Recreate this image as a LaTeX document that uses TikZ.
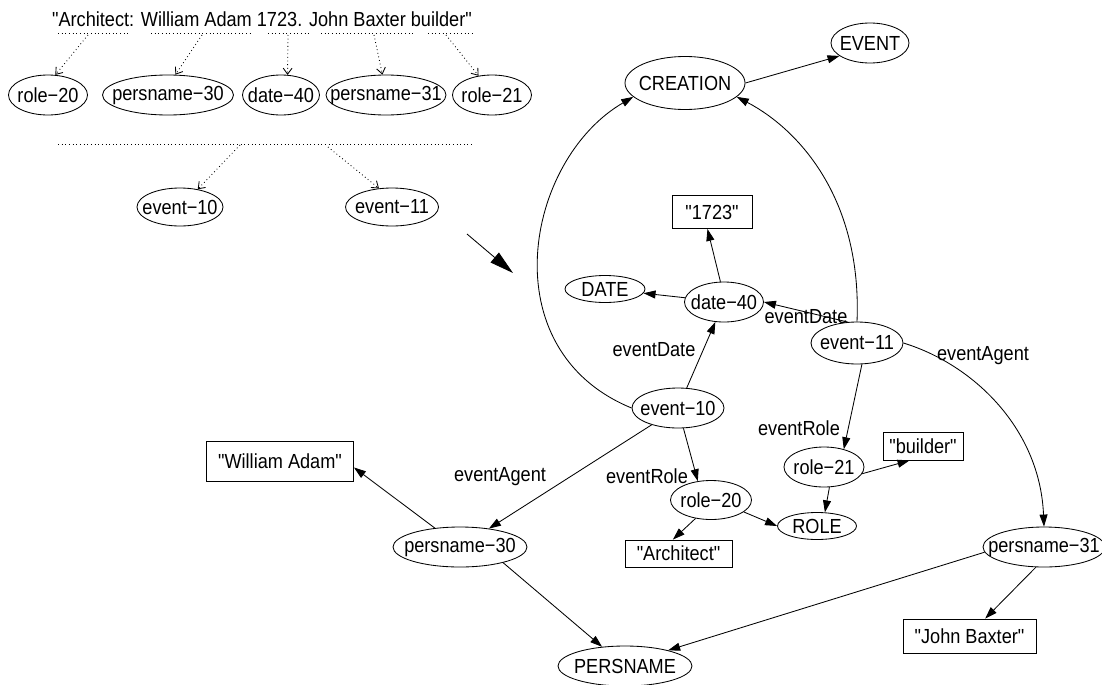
\documentclass[tikz,border=0pt]{standalone}
\usepackage{fontspec}
\setmainfont{Liberation Sans}[Ligatures=TeXOff, FakeStretch=0.89]
\usetikzlibrary{arrows.meta, shapes.geometric}
\tikzset{
    sz/.style 2 args={minimum width=#1*0.025cm, minimum height=#2*0.025cm},
    ent/.style={ellipse, draw, inner sep=0pt,
                execute at begin node={\hbox to 0pt\bgroup\hss}, execute at end node={\hss\egroup}},
    lit/.style={rectangle, draw, inner sep=0pt},
    lbl/.style={inner sep=0pt},
    arr/.style={-{Triangle[length=0.3cm, width=0.2cm]}},
    dotarr/.style={dotted, -{Straight Barb[length=0.15cm, width=0.22cm]}}
}

\begin{document}
\begin{tikzpicture}[x=0.025cm, y=-0.025cm, font=\fontsize{14.5pt}{16pt}\selectfont, line width=0.6pt]
        \useasboundingbox (0,0) rectangle (1102,684);

        \node[lbl] (sent) at (262,19) {"Architect: William Adam 1723. John Baxter builder"};
        \foreach \a/\b in {58/128, 151/253, 268/309, 321/414, 428/472}
            \draw[dotted] (\a,33) -- (\b,33);
        \node[ent, sz={79}{40}] (tr20) at (48,95) {role−20};
        \node[ent, sz={131}{40}] (tpn30) at (168,95) {persname−30};
        \node[ent, sz={77}{40}] (td40) at (281,95) {date−40};
        \node[ent, sz={120}{40}] (tpn31) at (386,95) {persname−31};
        \node[ent, sz={79}{40}] (tr21) at (492,95) {role−21};
        \foreach \x/\n/\a in {88/tr20/70, 202/tpn30/70, 288/td40/72, 374/tpn31/100, 446/tr21/125} {
            \coordinate (s-\n) at (\x,35);
            \draw[dotarr] (s-\n) -- (\n.\a);
        }
        \draw[dotted] (58,144) -- (472,144);
        \node[ent, sz={86}{38}] (te10) at (180,207) {event−10};
        \node[ent, sz={93}{38}] (te11) at (392,207) {event−11};
        \coordinate (m-te10) at (240,145);
        \coordinate (m-te11) at (328,147);
        \draw[dotarr] (m-te10) -- (te10.45);
        \draw[dotarr] (m-te11) -- (te11.125);

        \coordinate (bigA) at (467,234);
        \coordinate (bigB) at (513,273);
        \draw[-{Triangle[length=0.6cm, width=0.32cm]}] (bigA) -- (bigB);

        \node[ent, sz={120}{53}] (cre) at (685,83) {CREATION};
        \node[ent, sz={78}{40}] (ev) at (870,43) {EVENT};
        \node[lit, sz={80}{33}] (y1723) at (712,212) {"1723"};
        \node[ent, sz={80}{27}] (dt) at (605,289) {DATE};
        \node[ent, sz={79}{40}] (d40) at (724,302) {date−40};
        \node[ent, sz={92}{42}] (e11) at (857,343) {event−11};
        \node[ent, sz={92}{40}] (e10) at (678,408) {event−10};
        \node[ent, sz={80}{40}] (r21) at (824,467) {role−21};
        \node[lit, sz={80}{28}] (bld) at (923,446) {"builder"};
        \node[ent, sz={81}{39}] (r20) at (711,500) {role−20};
        \node[ent, sz={79}{27}] (rl) at (817,526) {ROLE};
        \node[lit, sz={107}{27}] (arch) at (678.5,553.5) {"Architect"};
        \node[ent, sz={134}{40}] (pn30) at (460,547) {persname−30};
        \node[lit, sz={147}{40}] (wadam) at (280,461) {"William Adam"};
        \node[ent, sz={122}{40}] (pn31) at (1044,547) {persname−31};
        \node[lit, sz={133}{34}] (jb) at (969.5,636) {"John Baxter"};
        \node[ent, sz={134}{40}] (pers) at (625,666) {PERSNAME};

        \node[lbl] (lDate10) at (654,350) {eventDate};
        \node[lbl] (lDate11) at (806,317) {eventDate};
        \node[lbl] (lAgent10) at (500,477) {eventAgent};
        \node[lbl] (lAgent11) at (983,356) {eventAgent};
        \node[lbl] (lRole10) at (647,476) {eventRole};
        \node[lbl] (lRole11) at (799,428) {eventRole};

        \draw[arr] (cre.east) -- (ev.203);
        \draw[arr] (e10.west) .. controls (490,350) and (525,160) .. (cre.195);
        \draw[arr] (e11.north) .. controls (862,200) and (800,130) .. (cre.-15);
        \draw[arr] (e10) -- (d40);
        \draw[arr] (e11.114) -- (d40.east);
        \draw[arr] (e10) -- (pn30);
        \draw[arr] (e10.-75) -- (r20.125);
        \draw[arr] (e11.-77) -- (r21.42);
        \draw[arr] (e11.east) .. controls (975,365) and (1040,430) .. (pn31.north);
        \draw[arr] (d40) -- (dt);
        \draw[arr] (d40.100) -- (y1723.-105);
        \draw[arr] (r20.-130) -- (arch.112);
        \draw[arr] (r20.-20) -- (rl.west);
        \draw[arr] (r21.-75) -- (rl.60);
        \draw[arr] (r21.-10) -- (bld.-133);
        \draw[arr] (pn30.143) -- (wadam.-5);
        \draw[arr] (pn30.-20) -- (pers.140);
        \draw[arr] (pn31.185) -- (pers.20);
        \draw[arr] (pn31.-112) -- (jb.48);
    \end{tikzpicture}
\end{document}
